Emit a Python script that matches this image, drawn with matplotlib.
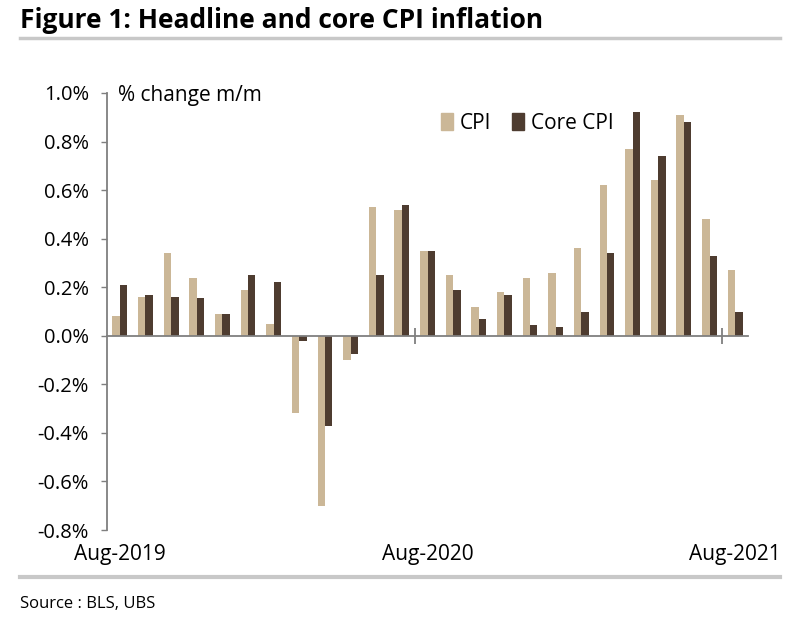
import matplotlib
matplotlib.use("Agg")
import matplotlib.pyplot as plt
from matplotlib.lines import Line2D
from matplotlib.patches import Patch
import numpy as np

months = ["Aug-2019", "Sep-2019", "Oct-2019", "Nov-2019", "Dec-2019", "Jan-2020",
          "Feb-2020", "Mar-2020", "Apr-2020", "May-2020", "Jun-2020", "Jul-2020",
          "Aug-2020", "Sep-2020", "Oct-2020", "Nov-2020", "Dec-2020", "Jan-2021",
          "Feb-2021", "Mar-2021", "Apr-2021", "May-2021", "Jun-2021", "Jul-2021",
          "Aug-2021"]
cpi = [0.08, 0.16, 0.34, 0.24, 0.09, 0.19, 0.05, -0.32, -0.70, -0.10, 0.53, 0.52,
       0.35, 0.25, 0.12, 0.18, 0.24, 0.26, 0.36, 0.62, 0.77, 0.64, 0.91, 0.48, 0.27]
core = [0.21, 0.17, 0.16, 0.155, 0.09, 0.25, 0.22, -0.02, -0.37, -0.075, 0.25, 0.54,
        0.35, 0.19, 0.07, 0.17, 0.045, 0.035, 0.10, 0.34, 0.92, 0.74, 0.88, 0.33, 0.10]
labeled = ["Aug-2019", "Aug-2020", "Aug-2021"]
yticks = [-0.8, -0.6, -0.4, -0.2, 0.0, 0.2, 0.4, 0.6, 0.8, 1.0]

CPI_COL = "#CBB797"
CORE_COL = "#4E3C30"
AX_COL = "#7F7F7F"
FONT = "Open Sans"

plt.rcParams['font.family'] = [FONT, 'DejaVu Sans']

fig = plt.figure(figsize=(8, 6.34), dpi=100)
ax = fig.add_axes([107/800, 1 - 530/634, (748-107)/800, (530-93)/634])

x = np.arange(len(months))
w = 0.29
ax.bar(x - w/2, cpi, width=w, color=CPI_COL, label="CPI", zorder=2)
ax.bar(x + w/2, core, width=w, color=CORE_COL, label="Core CPI", zorder=2)

ax.set_xlim(-0.5, len(months) - 0.5)
ax.set_ylim(-0.8, 1.0)
ax.set_yticks(yticks)
ax.set_yticklabels([f"{v:.1f}%" for v in yticks], fontsize=14.5)
ax.tick_params(axis='y', direction='out', length=4, width=1, color=AX_COL, pad=9)

for s in ["top", "right"]:
    ax.spines[s].set_visible(False)
ax.spines["left"].set_color(AX_COL)
ax.spines["left"].set_linewidth(1.3)
ax.spines["bottom"].set_position(("data", 0))
ax.spines["bottom"].set_color(AX_COL)
ax.spines["bottom"].set_linewidth(1.3)
ax.spines["bottom"].set_zorder(3)

bounds = [i - 0.5 for i, m in enumerate(months) if m in labeled and i > 0]
ax.set_xticks(bounds)
ax.set_xticklabels([])
ax.tick_params(axis='x', direction='inout', length=12, width=1.3, color=AX_COL)

for i, m in enumerate(months):
    if m in labeled:
        ax.text(i, -0.055, m, transform=ax.get_xaxis_transform(), ha='center',
                va='center', fontsize=15, clip_on=False)

fig.text(118/800, 1 - 96/634, "% change m/m", fontsize=15, va='center', ha='left')

handles = [Patch(color=CPI_COL), Patch(color=CORE_COL)]
fig.legend(handles, ["CPI", "Core CPI"], loc='center', bbox_to_anchor=(527/800, 1 - 123/634),
           ncol=2, frameon=False, fontsize=15, handlelength=0.6, handleheight=0.9,
           handletextpad=0.3, columnspacing=1.0)

fig.text(20/800, 1 - 21/634, "Figure 1: Headline and core CPI inflation", fontsize=19,
         fontweight='bold', va='center', ha='left')
fig.add_artist(Line2D([20/800, 780/800], [1 - 38/634, 1 - 38/634], color="#C8C8C8",
                      linewidth=2.5, transform=fig.transFigure))
fig.add_artist(Line2D([20/800, 780/800], [1 - 577/634, 1 - 577/634], color="#C8C8C8",
                      linewidth=3, transform=fig.transFigure))
fig.text(20/800, 1 - 604/634, "Source : BLS, UBS", fontsize=12, va='center', ha='left')

fig.savefig("out.png", dpi=100)
